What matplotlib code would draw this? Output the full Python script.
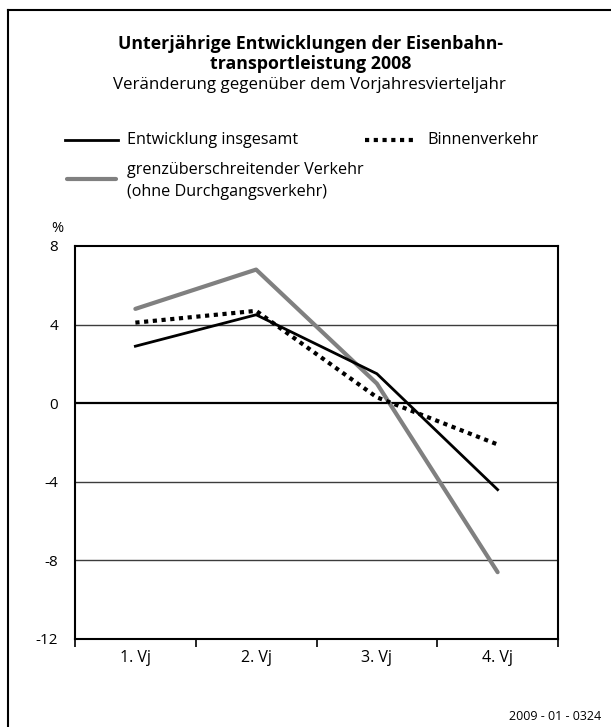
import matplotlib
matplotlib.use("Agg")
import matplotlib.pyplot as plt
from matplotlib.lines import Line2D

plt.rcParams['font.family'] = ['Open Sans', 'DejaVu Sans']

# data
quarters = ['1. Vj', '2. Vj', '3. Vj', '4. Vj']
insgesamt = [2.9, 4.5, 1.5, -4.4]
binnen = [4.1, 4.7, 0.3, -2.1]
grenz = [4.8, 6.8, 1.0, -8.6]
yticks = [-12, -8, -4, 0, 4, 8]

W, H = 611, 727
fig = plt.figure(figsize=(W / 100, H / 100), dpi=100)

# outer frame (left and top visible, the rest runs off the canvas)
fig.add_artist(Line2D([8 / W, 8 / W], [0, 1 - 10 / H], color='black', lw=1.5, transform=fig.transFigure))
fig.add_artist(Line2D([8 / W, 1], [1 - 10 / H, 1 - 10 / H], color='black', lw=1.5, transform=fig.transFigure))

ax = fig.add_axes([75 / W, 1 - 639 / H, 483 / W, 393 / H])
x = range(1, len(quarters) + 1)

for g in [4, -4, -8]:
    ax.axhline(g, color='#3c3c3c', lw=1.0, zorder=1)
ax.axhline(0, color='black', lw=1.6, zorder=1)

ax.plot(x, grenz, color='#808080', lw=3.0, solid_capstyle='round', zorder=3)
ax.plot(x, binnen, color='black', lw=3.0, linestyle=(0, (1, 1.1)), zorder=4)
ax.plot(x, insgesamt, color='black', lw=2.0, zorder=5)

ax.set_xlim(0.5, 4.5)
ax.set_ylim(-12, 8)
ax.set_yticks(yticks)
ax.set_yticklabels([str(t) for t in yticks], fontsize=11)
ax.tick_params(axis='y', length=0, pad=12)
ax.set_xticks([0.5, 1.5, 2.5, 3.5, 4.5])
ax.set_xticklabels([])
ax.set_xticks(list(x), minor=True)
ax.set_xticklabels(quarters, minor=True, fontsize=11.5)
ax.tick_params(axis='x', which='major', length=6, width=1.2, direction='out')
ax.tick_params(axis='x', which='minor', length=0, pad=8)
for s in ax.spines.values():
    s.set_linewidth(1.5)

# titles
fig.text(311 / W, 1 - 44 / H, 'Unterjährige Entwicklungen der Eisenbahn-', ha='center', va='center',
         fontsize=12.8, fontweight='bold')
fig.text(311 / W, 1 - 64 / H, 'transportleistung 2008', ha='center', va='center',
         fontsize=12.8, fontweight='bold')
fig.text(309 / W, 1 - 85 / H, 'Veränderung gegenüber dem Vorjahresvierteljahr', ha='center', va='center',
         fontsize=12.2)

# legend drawn by hand to keep the reference layout
fig.add_artist(Line2D([65 / W, 118 / W], [1 - 140 / H] * 2, color='black', lw=2.0, transform=fig.transFigure))
fig.text(127 / W, 1 - 140 / H, 'Entwicklung insgesamt', va='center', fontsize=11.6)
fig.add_artist(Line2D([365 / W, 417 / W], [1 - 140 / H] * 2, color='black', lw=3.0,
                      linestyle=(0, (1, 1.1)), transform=fig.transFigure))
fig.text(427 / W, 1 - 140 / H, 'Binnenverkehr', va='center', fontsize=11.6)
fig.add_artist(Line2D([67 / W, 116 / W], [1 - 179 / H] * 2, color='#808080', lw=3.0,
                      solid_capstyle='round', transform=fig.transFigure))
fig.text(127 / W, 1 - 170 / H, 'grenzüberschreitender Verkehr', va='center', fontsize=11.6)
fig.text(127 / W, 1 - 192 / H, '(ohne Durchgangsverkehr)', va='center', fontsize=11.6)

fig.text(57 / W, 1 - 229 / H, '%', ha='center', va='center', fontsize=10.5)
fig.text(601 / W, 1 - 717 / H, '2009 - 01 - 0324', ha='right', va='center', fontsize=9)

fig.savefig('out.png', dpi=100)
